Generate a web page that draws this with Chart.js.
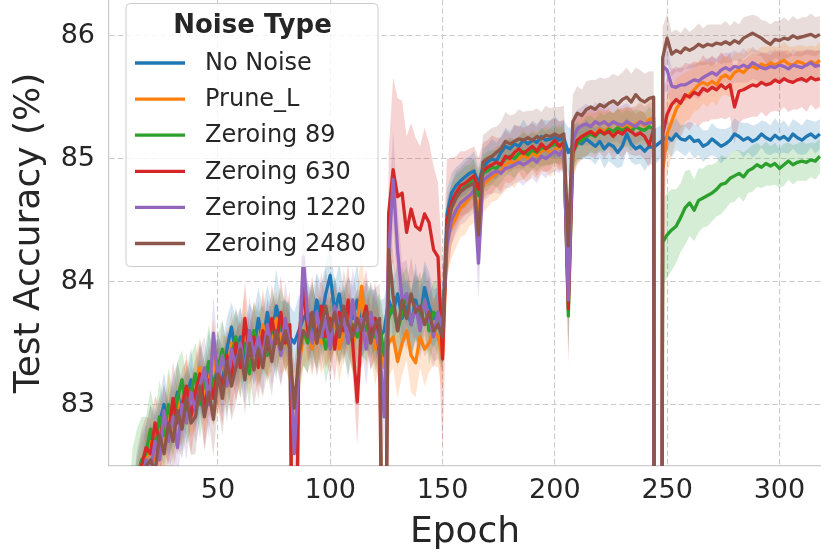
<!DOCTYPE html>
<html>
<head>
<meta charset="utf-8">
<script src="https://cdn.jsdelivr.net/npm/chart.js@4.4.1/dist/chart.umd.min.js"></script>
<style>
  html, body { margin: 0; padding: 0; background: #fff; }
  #c { display: block; }
</style>
</head>
<body>
<canvas id="c" width="821" height="552"></canvas>
<script>
// epochs sampled every 2
const epochs = [
  10,12,14,16,18, 20,22,24,26,28, 30,32,34,36,38, 40,42,44,46,48,
  50,52,54,56,58, 60,62,64,66,68, 70,72,74,76,78, 80,82,84,86,88,
  90,92,94,96,98, 100,102,104,106,108, 110,112,114,116,118, 120,122,124,126,128,
  130,132,134,136,138, 140,142,144,146,148, 150,152,154,156,158, 160,162,164,166,168,
  170,172,174,176,178, 180,182,184,186,188, 190,192,194,196,198, 200,202,204,206,208,
  210,212,214,216,218, 220,222,224,226,228, 230,232,234,236,238, 240,242,244,246,248,
  250,252,254,256,258, 260,262,264,266,268, 270,272,274,276,278, 280,282,284,286,288,
  290,292,294,296,298, 300,302,304,306,308, 310,312,314,316,318
];

const seriesNames = ['No Noise', 'Prune_L', 'Zeroing 89', 'Zeroing 630', 'Zeroing 1220', 'Zeroing 2480'];
const legendTitle = 'Noise Type';
const xTicks = [50, 100, 150, 200, 250, 300];
const yTicks = [83, 84, 85, 86];

// mean test accuracy (%)
const noNoise = [
  81.5,82.0,82.3,82.5,82.62, 82.75,82.6,82.85,83.0,82.8, 82.95,83.1,82.9,83.05,83.2, 83.0,83.24,83.1,83.3,83.15,
  83.35,83.2,83.45,83.63,83.4, 83.55,83.35,83.6,83.45,83.7, 83.5,83.75,83.55,83.8,83.6, 83.65,83.55,83.5,83.6,83.7,
  83.75,83.6,83.85,83.7,83.9, 84.05,83.75,83.9,83.65,83.8, 83.7,83.85,83.6,83.75,83.65, 83.7,83.55,83.6,83.85,83.75,
  83.9,83.7,83.8,83.65,83.85, 83.7,83.95,83.8,83.7,83.75, 83.6,84.55,84.72,84.78,84.82, 84.85,84.88,84.9,84.8,84.93,
  84.97,85.0,84.98,85.05,85.1, 85.08,85.12,85.1,85.15,85.12, 85.15,85.13,85.18,85.15,85.16, 85.18,85.15,85.17,85.05,85.1,
  85.15,85.12,85.16,85.13,85.1, 85.14,85.08,85.12,85.1,85.05, 85.1,85.2,85.12,85.08,85.1, 85.06,85.1,85.09,85.12,85.15,
  85.18,85.15,85.2,85.16,85.15, 85.18,85.14,85.15,85.1,85.12, 85.16,85.13,85.1,85.12,85.15, 85.2,85.18,85.15,85.17,85.14,
  85.16,85.2,85.17,85.15,85.19, 85.16,85.18,85.15,85.2,85.17, 85.15,85.18,85.2,85.17,85.2
];
const pruneL = [
  81.4,81.9,82.2,82.4,82.55, 82.7,82.55,82.8,82.65,82.95, 82.8,83.05,82.9,83.15,82.95, 83.1,83.3,83.05,83.2,83.4,
  83.15,83.35,83.25,83.5,83.3, 83.45,83.6,83.3,83.55,83.4, 83.65,83.45,83.55,83.7,83.5, 83.6,83.4,82.97,83.3,83.55,
  83.65,83.45,83.7,83.5,83.6, 83.55,83.7,83.45,83.6,83.75, 83.5,83.65,83.96,83.55,83.7, 83.45,83.6,83.3,83.5,83.55,
  83.35,83.5,83.6,83.4,83.34, 83.55,83.45,83.5,83.6,83.55, 83.4,84.35,84.45,84.52,84.6, 84.63,84.68,84.72,84.6,84.78,
  84.82,84.85,84.88,84.9,84.95, 84.98,84.96,85.0,85.03,85.0, 85.05,85.02,85.06,85.08,85.04, 85.07,85.1,85.05,84.3,85.05,
  85.15,85.18,85.2,85.22,85.2, 85.24,85.22,85.25,85.2,85.26, 85.24,85.27,85.25,85.28,85.3, 85.27,85.32,85.33,60,84.9,
  85.2,85.3,85.4,85.46,85.5, 85.52,85.56,85.6,85.62,85.6, 85.63,85.6,85.66,85.68,85.65, 85.7,85.72,85.7,85.74,85.75,
  85.73,85.77,85.75,85.78,85.76, 85.78,85.8,85.77,85.76,85.79, 85.78,85.76,85.79,85.77,85.8
];
const zero89 = [
  81.7,82.15,82.4,82.55,82.6, 82.8,82.65,82.9,82.75,83.0, 82.85,83.05,83.2,82.95,83.1, 83.25,83.0,83.2,83.35,83.1,
  83.3,83.45,83.2,83.4,83.55, 83.35,83.5,83.25,83.6,83.45, 83.55,83.4,83.65,83.5,83.7, 83.55,83.6,80,83.45,83.6,
  83.5,83.7,83.55,83.65,83.45, 83.6,83.75,83.55,83.7,83.5, 83.65,83.55,83.7,83.6,83.75, 83.55,83.65,83.4,83.7,83.8,
  83.6,83.75,83.9,83.65,83.8, 83.7,83.85,83.6,83.75,83.7, 83.55,84.45,84.62,84.7,84.74, 84.77,84.8,84.84,84.7,84.88,
  84.9,84.93,84.92,84.96,85.0, 85.02,85.0,85.04,85.06,85.03, 85.07,85.05,85.09,85.08,85.1, 85.12,85.1,85.14,83.72,85.05,
  85.12,85.15,85.18,85.2,85.18, 85.22,85.2,85.24,85.22,85.25, 85.23,85.25,85.22,85.26,85.24, 85.23,85.26,85.24,60,84.32,
  84.38,84.42,84.45,84.52,84.6, 84.64,84.58,84.66,84.68,84.7, 84.72,84.75,84.79,84.8,84.84, 84.86,84.88,84.85,84.9,84.92,
  84.95,84.93,84.96,84.94,84.96, 84.92,84.95,84.98,84.95,84.97, 84.98,84.97,84.99,84.98,85.02
];
const zero630 = [
  81.5,82.0,82.35,82.5,82.65, 82.6,82.85,82.7,82.9,82.75, 83.05,82.85,83.0,83.15,82.9, 83.1,83.25,82.95,83.2,83.05,
  83.3,83.1,83.4,83.2,83.5, 83.3,83.7,83.4,83.55,83.3, 83.6,83.45,83.7,83.5,83.75, 83.5,83.65,80,83.5,83.95,
  83.6,83.75,83.5,83.8,83.55, 83.7,83.45,83.75,83.6,83.85, 83.5,83.02,83.65,83.8,83.55, 83.7,83.4,80,84.55,84.91,
  84.69,84.72,84.4,84.59,84.45, 84.42,84.55,84.48,84.26,84.2, 83.37,84.5,84.65,84.72,84.78, 84.8,84.83,84.86,84.75,84.9,
  84.93,84.95,84.97,84.95,85.02, 85.0,85.05,85.08,85.04,85.07, 85.1,85.06,85.12,85.08,85.11, 85.15,85.1,85.13,83.78,85.05,
  85.15,85.18,85.2,85.22,85.19, 85.23,85.2,85.22,85.18,85.22, 85.2,85.24,85.22,85.19,85.21, 85.18,85.11,85.24,55,85.2,
  85.36,85.44,85.48,85.45,85.52, 85.5,85.54,85.52,85.57,85.55, 85.58,85.56,85.6,85.57,85.6, 85.42,85.55,85.56,85.58,85.6,
  85.59,85.62,85.6,85.61,85.64, 85.62,85.65,85.63,85.62,85.64, 85.65,85.63,85.66,85.64,85.65
];
const zero1220 = [
  81.3,81.8,82.1,82.3,82.55, 82.45,82.7,82.55,82.95,82.7, 82.9,82.65,83.0,82.85,83.1, 82.95,83.15,83.3,83.0,83.58,
  83.2,83.4,83.15,83.45,83.3, 83.5,83.25,83.6,83.4,83.55, 83.35,83.65,83.45,83.6,83.4, 83.7,83.5,82.6,83.3,84.2,
  83.7,83.5,83.75,83.55,83.7, 83.45,83.8,83.6,83.7,83.5, 83.85,83.6,83.7,83.45,83.75, 83.6,83.45,82.9,84.2,84.83,
  84.25,83.85,83.9,83.65,83.8, 83.6,83.85,83.7,83.55,83.75, 83.6,84.3,84.5,84.58,84.64, 84.67,84.7,84.74,84.15,84.82,
  84.85,84.88,84.9,84.88,84.92, 84.93,84.95,84.97,84.95,84.97, 85.0,84.97,85.02,85.0,85.03, 85.06,85.03,85.08,83.85,85.15,
  85.24,85.27,85.28,85.26,85.3, 85.28,85.3,85.27,85.3,85.28, 85.27,85.3,85.28,85.26,85.3, 85.28,85.29,85.3,55,85.75,
  85.72,85.59,85.58,85.6,85.6, 85.62,85.64,85.63,85.66,85.68, 85.7,85.68,85.72,85.74,85.72, 85.75,85.74,85.76,85.74,85.78,
  85.76,85.74,85.73,85.75,85.74, 85.76,85.75,85.73,85.76,85.75, 85.74,85.76,85.78,85.75,85.76
];
const zero2480 = [
  81.2,81.7,82.0,82.2,82.5, 82.55,82.45,82.75,82.6,82.85, 82.7,82.95,82.8,83.05,82.85, 82.9,83.15,82.9,83.1,82.88,
  83.25,83.05,83.35,83.15,83.3, 83.45,83.2,83.5,83.28,83.45, 83.3,83.55,83.35,83.6,83.45, 83.6,83.45,82.97,83.4,83.6,
  83.55,83.75,83.5,83.65,83.8, 83.6,83.75,83.55,83.8,83.65, 83.55,83.7,83.6,83.75,83.5, 83.65,83.7,80,84.26,83.88,
  83.6,83.85,83.7,83.9,83.75, 83.8,83.65,83.75,83.6,83.65, 83.55,84.42,84.6,84.68,84.73, 84.76,84.78,84.8,84.38,84.97,
  85.0,85.02,85.05,85.08,85.14, 85.12,85.14,85.16,85.15,85.17, 85.15,85.18,85.16,85.19,85.18, 85.2,85.18,85.2,84.29,85.3,
  85.37,85.35,85.4,85.42,85.4, 85.44,85.42,85.45,85.47,85.44, 85.48,85.5,85.46,85.52,85.48, 85.46,85.49,85.5,50,85.82,
  85.98,85.85,85.88,85.86,85.9, 85.88,85.9,85.93,85.91,85.93, 85.92,85.94,85.93,85.95,85.93, 85.96,85.94,85.98,86.0,86.02,
  86.0,85.98,85.95,85.93,85.97, 85.96,85.98,85.97,86.0,85.98, 85.99,86.0,86.01,85.99,86.01
];

// confidence band half-widths
const ciNoNoise = [
  .3,.3,.28,.25,.22, .25,.3,.2,.26,.22, .28,.24,.3,.22,.26, .2,.28,.24,.3,.25,
  .22,.28,.25,.2,.3, .24,.26,.22,.3,.25, .28,.22,.26,.3,.24, .2,.26,.25,.28,.22,
  .25,.3,.22,.28,.24, .3,.22,.26,.28,.24, .26,.3,.22,.25,.28, .24,.3,.26,.22,.27,
  .24,.28,.22,.26,.3, .25,.22,.28,.24,.2, .25,.2,.16,.15,.14, .15,.14,.16,.13,.15,
  .14,.16,.15,.13,.15, .14,.16,.15,.17,.14, .16,.15,.14,.16,.15, .17,.15,.14,.2,.16,
  .15,.13,.16,.14,.15, .13,.16,.14,.15,.13, .16,.14,.15,.13,.14, .16,.14,.15,.14,.13,
  .12,.14,.13,.11,.13, .12,.14,.12,.13,.11, .13,.12,.14,.12,.11, .13,.12,.14,.12,.13,
  .12,.11,.13,.12,.14, .12,.13,.11,.12,.13, .12,.14,.11,.13,.12
];
const ciPruneL = [
  .3,.32,.3,.28,.25, .3,.24,.28,.22,.3, .26,.3,.24,.28,.22, .3,.25,.28,.22,.3,
  .26,.22,.3,.25,.28, .24,.3,.22,.28,.25, .3,.24,.28,.22,.26, .3,.24,.35,.28,.25,
  .28,.22,.3,.25,.26, .3,.24,.28,.22,.3, .25,.28,.3,.24,.27, .3,.25,.35,.28,.25,
  .3,.26,.24,.3,.28, .25,.3,.24,.28,.25, .3,.3,.26,.25,.24, .25,.23,.24,.3,.22,
  .22,.2,.22,.2,.21, .19,.2,.18,.2,.19, .18,.19,.17,.18,.19, .17,.18,.17,.35,.2,
  .17,.16,.18,.15,.17, .16,.15,.17,.16,.15, .17,.15,.16,.15,.17, .16,.15,.16,.3,.35,
  .32,.28,.25,.22,.2, .2,.18,.2,.17,.18, .16,.17,.15,.16,.15, .16,.14,.15,.16,.14,
  .15,.14,.16,.14,.15, .13,.15,.14,.15,.13, .14,.15,.13,.14,.15
];
const ciZero89 = [
  .5,.5,.4,.35,.3, .32,.28,.3,.25,.3, .26,.3,.24,.28,.3, .25,.28,.22,.3,.26,
  .28,.24,.3,.26,.22, .3,.25,.28,.24,.3, .26,.22,.28,.3,.25, .28,.24,.3,.26,.28,
  .24,.3,.26,.22,.28, .25,.3,.24,.28,.26, .22,.28,.3,.25,.24, .28,.26,.3,.24,.28,
  .25,.3,.22,.28,.26, .3,.24,.28,.25,.3, .26,.2,.18,.17,.16, .17,.15,.16,.2,.15,
  .16,.14,.15,.16,.14, .15,.16,.14,.15,.16, .14,.15,.16,.14,.15, .16,.14,.15,.3,.16,
  .15,.14,.16,.15,.14, .16,.15,.14,.15,.16, .14,.15,.16,.14,.15, .14,.16,.15,.4,.35,
  .34,.33,.3,.28,.3, .27,.25,.26,.24,.25, .23,.22,.24,.21,.2, .21,.19,.2,.18,.19,
  .18,.17,.18,.16,.17, .16,.17,.15,.16,.15, .16,.15,.14,.15,.14
];
const ciZero630 = [
  .3,.3,.28,.3,.25, .28,.22,.3,.26,.24, .3,.25,.28,.22,.3, .26,.24,.3,.28,.22,
  .3,.26,.22,.28,.3, .25,.3,.24,.28,.26, .3,.22,.28,.25,.3, .24,.28,.35,.3,.3,
  .26,.3,.24,.28,.25, .3,.26,.22,.28,.3, .25,.35,.28,.3,.26, .3,.28,.35,.5,.75,
  .8,.75,.78,.7,.72, .68,.7,.65,.68,.6, .75,.5,.35,.3,.28, .26,.25,.24,.26,.23,
  .22,.24,.2,.22,.21, .2,.22,.19,.21,.2, .19,.2,.21,.19,.2, .18,.2,.19,.45,.22,
  .2,.19,.18,.2,.19, .18,.2,.17,.19,.18, .2,.18,.19,.17,.18, .19,.18,.17,.35,.35,
  .3,.28,.27,.28,.26, .27,.25,.26,.27,.25, .26,.24,.27,.25,.26, .3,.26,.24,.25,.26,
  .25,.24,.26,.23,.25, .24,.23,.25,.22,.24, .23,.25,.22,.24,.23
];
const ciZero1220 = [
  .3,.32,.3,.26,.3, .24,.28,.3,.22,.26, .3,.28,.24,.3,.22, .26,.3,.25,.28,.3,
  .24,.28,.3,.22,.26, .3,.25,.28,.24,.3, .26,.22,.3,.28,.24, .3,.26,.35,.3,.35,
  .28,.24,.3,.26,.22, .3,.25,.28,.24,.3, .26,.28,.22,.3,.25, .28,.3,.3,.35,.4,
  .35,.3,.28,.26,.3, .24,.28,.3,.25,.28, .3,.25,.2,.19,.18, .19,.17,.18,.3,.17,
  .17,.16,.18,.17,.16, .17,.15,.16,.17,.15, .16,.17,.15,.16,.15, .16,.15,.16,.4,.18,
  .16,.15,.17,.15,.16, .15,.17,.15,.16,.14, .16,.15,.14,.16,.15, .14,.16,.15,.35,.2,
  .18,.15,.14,.15,.13, .14,.13,.15,.13,.14, .12,.14,.13,.12,.14, .13,.12,.14,.12,.13,
  .12,.13,.12,.14,.12, .13,.12,.11,.13,.12, .12,.13,.11,.12,.13
];
const ciZero2480 = [
  .3,.3,.28,.3,.25, .3,.26,.22,.28,.3, .25,.3,.24,.28,.26, .3,.22,.28,.25,.3,
  .26,.3,.24,.28,.3, .22,.28,.25,.3,.26, .24,.3,.28,.22,.3, .26,.28,.35,.3,.28,
  .3,.24,.28,.26,.3, .25,.28,.22,.3,.26, .28,.24,.3,.26,.22, .3,.28,.35,.4,.35,
  .3,.28,.26,.3,.24, .28,.26,.3,.25,.28, .3,.25,.2,.22,.2, .21,.22,.2,.3,.22,
  .22,.23,.21,.22,.24, .23,.22,.24,.23,.22, .24,.23,.22,.24,.23, .22,.24,.23,.4,.22,
  .22,.21,.23,.22,.24, .22,.23,.21,.22,.23, .22,.24,.23,.22,.24, .23,.22,.21,.35,.25,
  .2,.18,.17,.16,.17, .15,.16,.17,.15,.16, .17,.15,.16,.17,.15, .16,.15,.17,.16,.15,
  .16,.15,.17,.16,.15, .16,.17,.15,.16,.15, .16,.15,.17,.16,.15
];

const means = [noNoise, pruneL, zero89, zero630, zero1220, zero2480];
const bands = [ciNoNoise, ciPruneL, ciZero89, ciZero630, ciZero1220, ciZero2480];
const colors = ['#1f77b4', '#ff7f0e', '#2ca02c', '#d62728', '#9467bd', '#8c564b'];

const TEXT = '#262626';
const FONT = 'DejaVu Sans';

const rgba = (hex, a) => {
  const n = parseInt(hex.slice(1), 16);
  return `rgba(${n >> 16},${(n >> 8) & 255},${n & 255},${a})`;
};
const toPts = (vals) => epochs.map((e, i) => ({ x: e, y: vals[i] }));

// bands first (drawn under every line), then the mean lines
const datasets = [];
means.forEach((m, k) => {
  const ci = bands[k];
  datasets.push({
    data: toPts(m.map((v, i) => v - ci[i])),
    borderWidth: 0, borderColor: 'rgba(0,0,0,0)', pointRadius: 0,
    fill: false, order: 20
  });
  datasets.push({
    data: toPts(m.map((v, i) => v + ci[i])),
    borderWidth: 0, borderColor: 'rgba(0,0,0,0)', pointRadius: 0,
    fill: '-1', backgroundColor: rgba(colors[k], 0.2), order: 20
  });
});
means.forEach((m, k) => {
  datasets.push({
    label: seriesNames[k],
    data: toPts(m),
    borderColor: colors[k],
    borderWidth: 3.3,
    borderJoinStyle: 'round',
    pointRadius: 0,
    fill: false,
    tension: 0,
    order: 5 - k
  });
});

// legend box drawn inside the plot, top left
const legendBox = {
  id: 'legendBox',
  afterDatasetsDraw(chart) {
    const ctx = chart.ctx;
    const x0 = 126, y0 = 3.5, w = 252, h = 263, r = 4;
    ctx.save();
    ctx.beginPath();
    ctx.moveTo(x0 + r, y0);
    ctx.arcTo(x0 + w, y0, x0 + w, y0 + h, r);
    ctx.arcTo(x0 + w, y0 + h, x0, y0 + h, r);
    ctx.arcTo(x0, y0 + h, x0, y0, r);
    ctx.arcTo(x0, y0, x0 + w, y0, r);
    ctx.closePath();
    ctx.fillStyle = 'rgba(255,255,255,0.8)';
    ctx.fill();
    ctx.strokeStyle = '#cccccc';
    ctx.lineWidth = 1;
    ctx.stroke();

    ctx.fillStyle = TEXT;
    ctx.textBaseline = 'middle';
    ctx.textAlign = 'center';
    ctx.font = `bold 26px "${FONT}"`;
    ctx.fillText(legendTitle, 252.5, 26);

    ctx.textAlign = 'left';
    ctx.font = `24px "${FONT}"`;
    seriesNames.forEach((name, k) => {
      const y = 63 + k * 36.1;
      ctx.strokeStyle = colors[k];
      ctx.lineWidth = 3.3;
      ctx.beginPath();
      ctx.moveTo(135, y);
      ctx.lineTo(185, y);
      ctx.stroke();
      ctx.fillText(name, 205, y + 1);
    });
    ctx.restore();
  }
};

new Chart(document.getElementById('c'), {
  type: 'line',
  data: { datasets },
  options: {
    responsive: false,
    animation: false,
    devicePixelRatio: 1,
    events: [],
    layout: { padding: 0 },
    plugins: {
      legend: { display: false },
      tooltip: { enabled: false },
      filler: { propagate: false }
    },
    scales: {
      x: {
        type: 'linear',
        min: 1.5,
        max: 318.5,
        afterBuildTicks: s => { s.ticks = xTicks.map(v => ({ value: v })); },
        afterFit: s => { s.height = 86; s.paddingLeft = 0; s.paddingRight = 0; },
        grid: { color: '#cbcbcb', lineWidth: 1.1, drawTicks: false },
        border: { display: true, color: '#cccccc', width: 1.3, dash: [5.5, 3] },
        ticks: { color: TEXT, font: { family: FONT, size: 27 }, padding: 9, maxRotation: 0, autoSkip: false },
        title: { display: true, text: 'Epoch', color: TEXT, font: { family: FONT, size: 36, lineHeight: 1.1 }, padding: 0 }
      },
      y: {
        type: 'linear',
        min: 82.5,
        max: 86.29,
        afterBuildTicks: s => { s.ticks = yTicks.map(v => ({ value: v })); },
        afterFit: s => { s.width = 109; s.paddingTop = 0; s.paddingBottom = 0; },
        grid: { color: '#cbcbcb', lineWidth: 1.1, drawTicks: false },
        border: { display: true, color: '#cccccc', width: 1.3, dash: [5.5, 3] },
        ticks: { color: TEXT, font: { family: FONT, size: 27 }, padding: 14, autoSkip: false },
        title: { display: true, text: 'Test Accuracy (%)', color: TEXT, font: { family: FONT, size: 36, lineHeight: 1.1 }, padding: { top: 10, bottom: 0 } }
      }
    }
  },
  plugins: [legendBox]
});
</script>
</body>
</html>
